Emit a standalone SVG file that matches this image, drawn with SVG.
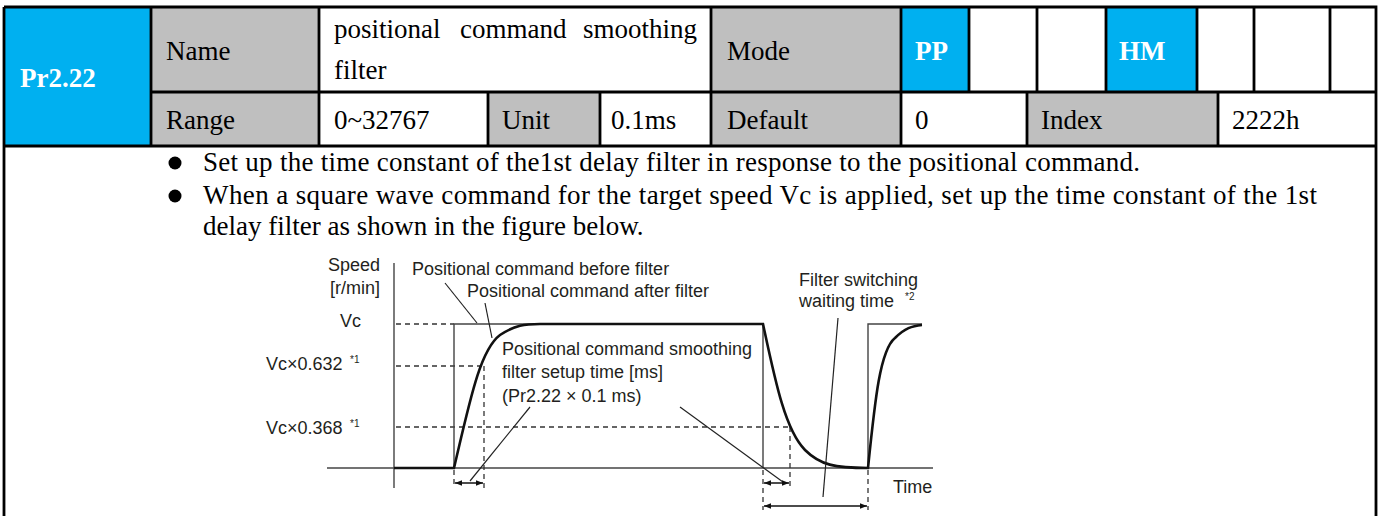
<svg xmlns="http://www.w3.org/2000/svg" width="1393" height="516" viewBox="0 0 1393 516">
<style>
.t{font-family:"Liberation Serif","Times New Roman",serif;font-size:27px;fill:#000}
.tb{font-family:"Liberation Serif","Times New Roman",serif;font-size:27px;font-weight:bold;fill:#fff}
.blue{fill:#00B0F0}
.gray{fill:#BFBFBF}
.white{fill:#fff}
.grid{stroke:#000;stroke-width:2.8;fill:none}
.c{font-family:"Liberation Sans",Arial,sans-serif;font-size:18px;fill:#231F20}
.sup{font-family:"Liberation Sans",Arial,sans-serif;font-size:10px;fill:#231F20}
.thin{stroke:#444;stroke-width:1.4;fill:none}
.dash{stroke:#333;stroke-width:1.3;fill:none;stroke-dasharray:5 4}
.curve{stroke:#111;stroke-width:2.6;fill:none}
.lead{stroke:#222;stroke-width:1.2;fill:none}
.arr{stroke:#111;stroke-width:1.5;fill:none;marker-start:url(#ah);marker-end:url(#ah)}
</style>
<defs>
<marker id="ah" viewBox="0 0 10 10" refX="10" refY="5" markerWidth="9" markerHeight="7" markerUnits="userSpaceOnUse" orient="auto-start-reverse">
<path d="M0,1 L10,5 L0,9 z" fill="#111"/>
</marker>
</defs>
<rect x="0" y="0" width="1393" height="516" fill="#fff"/>

<g id="header">
<g id="cell-pr"><rect class="blue" x="4" y="7" width="147" height="139"/><text class="tb" x="20" y="87">Pr2.22</text></g>
<g id="cell-name"><rect class="gray" x="151" y="7" width="168" height="85"/><text class="t" x="166" y="60">Name</text></g>
<g id="cell-namevalue"><rect class="white" x="319" y="7" width="392" height="85"/>
<text class="t" x="334" y="38">positional</text><text class="t" x="460" y="38">command</text><text class="t" x="697" y="38" text-anchor="end">smoothing</text>
<text class="t" x="334" y="79">filter</text></g>
<g id="cell-mode"><rect class="gray" x="711" y="7" width="190" height="85"/><text class="t" x="727" y="60">Mode</text></g>
<g id="cell-pp"><rect class="blue" x="901" y="7" width="68" height="85"/><text class="tb" x="915" y="60">PP</text></g>
<g id="cell-hm"><rect class="blue" x="1106" y="7" width="91" height="85"/><text class="tb" x="1119" y="60">HM</text></g>
<g id="cell-range"><rect class="gray" x="151" y="92" width="168" height="54"/><text class="t" x="166" y="129">Range</text></g>
<g id="cell-rangevalue"><text class="t" x="334" y="129">0~32767</text></g>
<g id="cell-unit"><rect class="gray" x="488" y="92" width="112" height="54"/><text class="t" x="502" y="129">Unit</text></g>
<g id="cell-unitvalue"><text class="t" x="611" y="129">0.1ms</text></g>
<g id="cell-default"><rect class="gray" x="711" y="92" width="190" height="54"/><text class="t" x="727" y="129">Default</text></g>
<g id="cell-defaultvalue"><text class="t" x="915" y="129">0</text></g>
<g id="cell-index"><rect class="gray" x="1027" y="92" width="191" height="54"/><text class="t" x="1041" y="129">Index</text></g>
<g id="cell-indexvalue"><text class="t" x="1232" y="129">2222h</text></g>
<path class="grid" d="M4,7 H1376 V516 M4,7 V516 M151,7 V146 M4,146 H1376 M151,92 H1376 M319,7 V146 M711,7 V146 M901,7 V146 M969,7 V92 M1037,7 V92 M1106,7 V92 M1197,7 V92 M1254,7 V92 M1330,7 V92 M488,92 V146 M600,92 V146 M1027,92 V146 M1218,92 V146"/>
</g>

<g id="description">
<circle cx="175" cy="163" r="6.5" fill="#000"/>
<text class="t" x="203" y="171" textLength="937" lengthAdjust="spacing">Set up the time constant of the1st delay filter in response to the positional command.</text>
<circle cx="175" cy="196" r="6.5" fill="#000"/>
<text class="t" x="203" y="204" textLength="1114" lengthAdjust="spacing">When a square wave command for the target speed Vc is applied, set up the time constant of the 1st</text>
<text class="t" x="203" y="235">delay filter as shown in the figure below.</text>
</g>

<g id="chart">
<g id="axes">
<line class="thin" x1="394" y1="263" x2="394" y2="488"/>
<line class="thin" x1="327" y1="468" x2="933" y2="468"/>
</g>
<g id="levels">
<line class="dash" x1="396" y1="324" x2="454" y2="324"/>
<line class="dash" x1="396" y1="366" x2="484" y2="366"/>
<line class="dash" x1="396" y1="427" x2="790" y2="427"/>
<line class="dash" x1="484" y1="366" x2="484" y2="488"/>
<line class="dash" x1="454" y1="470" x2="454" y2="488"/>
<line class="dash" x1="790" y1="427" x2="790" y2="488"/>
<line class="dash" x1="763" y1="470" x2="763" y2="510"/>
<line class="dash" x1="868" y1="470" x2="868" y2="510"/>
</g>
<g id="command-before">
<path class="thin" d="M394,468 H454 V324 H763 V468 M868,468 V324 H922"/>
</g>
<g id="command-after">
<path class="curve" d="M394,468 H454 C470,400 480,350 500,335 C515,325 525,324 540,324 H763 C775,380 785,430 805,450 C820,465 835,468 868,468 C875,400 880,350 895,338 C905,328 912,326 922,325"/>
</g>
<g id="connectors">
<line class="lead" x1="445" y1="283" x2="477" y2="323"/>
<line class="lead" x1="485" y1="303" x2="492" y2="338"/>
<line class="lead" x1="530" y1="407" x2="470" y2="481"/>
<line class="lead" x1="680" y1="407" x2="783" y2="482"/>
<line class="lead" x1="838" y1="318" x2="823" y2="497"/>
<line class="arr" x1="455" y1="483" x2="483" y2="483"/>
<line class="arr" x1="764" y1="483" x2="789" y2="483"/>
<line class="arr" x1="764" y1="506" x2="867" y2="506"/>
</g>
<g id="labels">
<text class="c" x="328" y="271">Speed</text>
<text class="c" x="330" y="294">[r/min]</text>
<text class="c" x="340" y="327">Vc</text>
<text class="c" x="266" y="370">Vc×0.632</text><text class="sup" x="350" y="363">*1</text>
<text class="c" x="266" y="434">Vc×0.368</text><text class="sup" x="350" y="427">*1</text>
<text class="c" x="412" y="275">Positional command before filter</text>
<text class="c" x="467" y="297">Positional command after filter</text>
<text class="c" x="502" y="355">Positional command smoothing</text>
<text class="c" x="502" y="378">filter setup time [ms]</text>
<text class="c" x="502" y="402">(Pr2.22 × 0.1 ms)</text>
<text class="c" x="799" y="286">Filter switching</text>
<text class="c" x="799" y="307">waiting time</text><text class="sup" x="905" y="300">*2</text>
<text class="c" x="893" y="493">Time</text>
</g>
</g>
</svg>
